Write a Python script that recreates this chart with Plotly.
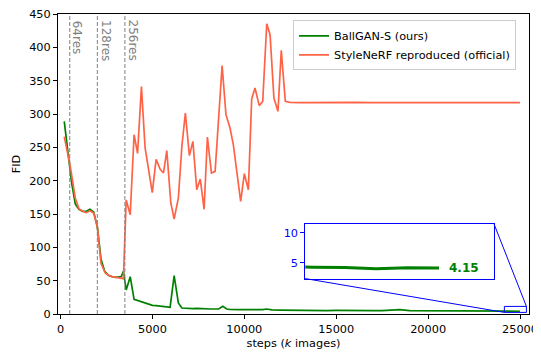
import plotly.graph_objects as go

# ---- data ----
green_steps = [200, 400, 600, 800, 1000, 1200, 1400, 1600, 1800, 2000, 2200, 2400, 2600, 2800,
               3000, 3300, 3420, 3570, 3790, 4000, 4200, 4400, 4600, 4800, 5000, 5200, 5400,
               5600, 5800, 5960, 6180, 6410, 6600, 6800, 7000, 7200, 7400, 7600, 7800, 8000,
               8200, 8400, 8600, 8830, 9040, 9200, 9400, 9600, 9800, 10000, 10500, 11000,
               11210, 11500, 12000, 12500, 13000, 13500, 14000, 14500, 15000, 15500, 16000,
               16500, 17000, 17500, 18000, 18460, 19000, 19500, 20000, 20500, 21000, 21500,
               22000, 22500, 23000, 23500, 24000, 24200, 24400, 24600, 24800, 25000]
green_fid = [289, 239, 197, 165, 157, 154, 154, 157, 153, 131, 82, 64, 58, 56,
             55, 56, 64, 36, 56, 22, 20, 18, 17, 15, 13, 12.5, 12,
             11.5, 11, 10, 57.5, 16.5, 9, 8.5, 8.5, 8, 8.5, 8, 8, 8,
             7.5, 7.5, 7.5, 11.5, 7.5, 7, 6.5, 6.5, 6.5, 6.5, 6.3, 6.5,
             7.5, 6.2, 5.8, 5.5, 5.3, 5.2, 5.2, 5.1, 5.3, 5.0, 5.1,
             5.2, 5.0, 5.1, 5.3, 6.5, 5.0, 4.9, 4.8, 5.0, 4.8, 4.7,
             4.8, 4.6, 4.5, 4.5, 4.4, 4.3, 4.25, 4.05, 4.2, 4.15]

red_steps = [200, 530, 800, 1000, 1200, 1400, 1600, 1800, 2000, 2200, 2430, 2600, 2800, 3000,
             3200, 3420, 3570, 3790, 4000, 4190, 4400, 4600, 4990, 5200, 5420, 5600, 5780,
             6000, 6180, 6410, 6600, 6790, 7010, 7200, 7410, 7600, 7810, 7990, 8210, 8410,
             8790, 9000, 9220, 9400, 9800, 10000, 10220, 10400, 10580, 10810, 11000, 11220,
             11400, 11610, 11830, 12010, 12230, 12480, 13000, 14000, 15000, 16000, 17000,
             18000, 19000, 20000, 21000, 22000, 23000, 24000, 25000]
red_fid = [266, 221, 174, 158, 154, 152, 155, 151.5, 131, 76, 61.5, 58, 56, 55,
           54, 53, 171, 149, 269, 241, 341, 249, 182, 232, 217, 211.5, 245,
           166.5, 142.5, 174, 251, 301.5, 237.5, 259, 186.5, 202.5, 157, 265.5, 211.5, 214,
           372.5, 299, 279, 254, 169, 210.5, 186.5, 322.5, 339, 312.5, 319, 435.5,
           419, 324, 304, 395.5, 319, 317.5, 317, 317.5, 317, 317.5, 317, 317.5,
           317, 317, 317.5, 317, 317, 317.5, 317]

res_steps = [500, 2000, 3500]
res_labels = ["64res", "128res", "256res"]

x_ticks = [0, 5000, 10000, 15000, 20000, 25000]
y_ticks = [0, 50, 100, 150, 200, 250, 300, 350, 400, 450]
inset_y_ticks = [5, 10]

final_value = 4.15
series_names = ["BallGAN-S (ours)", "StyleNeRF reproduced (official)"]

# ---- layout constants ----
X_RANGE = [-140, 25490]
Y_RANGE = [0, 450]
INSET_X = [24150, 25350]
INSET_Y = [2.4, 11.4]
INSET_DOM_X = [0.525, 0.926]
INSET_DOM_Y = [0.118, 0.299]
FONT = "DejaVu Sans"
FS = 11.3

GREEN = "#008000"
RED = "#ff6347"
BLUE = "#0000ff"

fig = go.Figure()
fig.add_trace(go.Scatter(x=green_steps, y=green_fid, mode="lines", name=series_names[0],
                         line=dict(color=GREEN, width=1.7)))
fig.add_trace(go.Scatter(x=red_steps, y=red_fid, mode="lines", name=series_names[1],
                         line=dict(color=RED, width=1.7)))
# inset
fig.add_trace(go.Scatter(x=green_steps, y=green_fid, mode="lines", showlegend=False,
                         line=dict(color=GREEN, width=3), xaxis="x2", yaxis="y2"))

shapes = []
annotations = []
for s, lab in zip(res_steps, res_labels):
    shapes.append(dict(type="line", xref="x", yref="y", x0=s, x1=s, y0=Y_RANGE[0], y1=Y_RANGE[1],
                       line=dict(color="#808080", width=1, dash="4px,2px")))
    annotations.append(dict(x=s, y=Y_RANGE[1], xref="x", yref="y", text=lab, showarrow=False,
                            textangle=90, xanchor="center", yanchor="middle",
                            xshift=8, yshift=-9 - 2.9 * len(lab),
                            font=dict(family=FONT, size=12, color="#808080")))

# zoom box in main axes
shapes.append(dict(type="rect", xref="x", yref="y", x0=INSET_X[0], x1=INSET_X[1],
                   y0=INSET_Y[0], y1=INSET_Y[1], line=dict(color=BLUE, width=1)))


def px(xv):
    return (xv - X_RANGE[0]) / (X_RANGE[1] - X_RANGE[0])


def py(yv):
    return (yv - Y_RANGE[0]) / (Y_RANGE[1] - Y_RANGE[0])


shapes.append(dict(type="line", xref="paper", yref="paper",
                   x0=INSET_DOM_X[1], y0=INSET_DOM_Y[1], x1=px(INSET_X[1]), y1=py(INSET_Y[1]),
                   line=dict(color=BLUE, width=1)))
shapes.append(dict(type="line", xref="paper", yref="paper",
                   x0=INSET_DOM_X[0], y0=INSET_DOM_Y[0], x1=px(INSET_X[0]), y1=py(INSET_Y[0]),
                   line=dict(color=BLUE, width=1)))

annotations.append(dict(x=green_steps[-1], y=final_value, xref="x2", yref="y2",
                        text="<b>%.2f</b>" % final_value, showarrow=False, xanchor="left",
                        xshift=8, font=dict(family=FONT, size=12, color=GREEN)))

axis_common = dict(showgrid=False, zeroline=False, showline=True, linecolor="black",
                   linewidth=1, mirror=True, ticks="outside", ticklen=4, tickwidth=1,
                   tickcolor="black", automargin=False, ticklabeloverflow="allow",
                   tickfont=dict(family=FONT, size=FS, color="black"))

# the page body adds an 8px offset, so the figure is 8px smaller and margins shifted
fig.update_layout(
    width=533, height=344,
    margin=dict(l=49.7, r=11.7, t=6.3, b=37.7),
    paper_bgcolor="white", plot_bgcolor="white",
    font=dict(family=FONT, size=FS, color="black"),
    xaxis=dict(range=X_RANGE, tickvals=x_ticks, ticktext=[str(v) for v in x_ticks],
               title=dict(text="steps (<i>k</i> images)", font=dict(family=FONT, size=FS), standoff=4),
               **axis_common),
    yaxis=dict(range=Y_RANGE, tickvals=y_ticks, ticktext=[str(v) for v in y_ticks],
               title=dict(text="FID", font=dict(family=FONT, size=FS), standoff=6),
               **axis_common),
    xaxis2=dict(domain=INSET_DOM_X, anchor="y2", range=INSET_X, showticklabels=False,
                ticks="", showgrid=False, zeroline=False, showline=True, linecolor=BLUE,
                linewidth=1, mirror=True, automargin=False),
    yaxis2=dict(domain=INSET_DOM_Y, anchor="x2", range=INSET_Y, tickvals=inset_y_ticks,
                ticktext=[str(v) for v in inset_y_ticks],
                ticks="outside", ticklen=4, tickcolor=BLUE, showgrid=False, zeroline=False,
                showline=True, linecolor=BLUE, linewidth=1, mirror=True, automargin=False,
                ticklabeloverflow="allow",
                tickfont=dict(family=FONT, size=FS, color=BLUE)),
    legend=dict(x=0.499, y=0.979, xanchor="left", yanchor="top", bgcolor="rgba(255,255,255,0.8)",
                bordercolor="#cccccc", borderwidth=1, font=dict(family=FONT, size=FS),
                itemwidth=30, tracegroupgap=0),
    shapes=shapes, annotations=annotations,
)

fig.write_html("out.html")
